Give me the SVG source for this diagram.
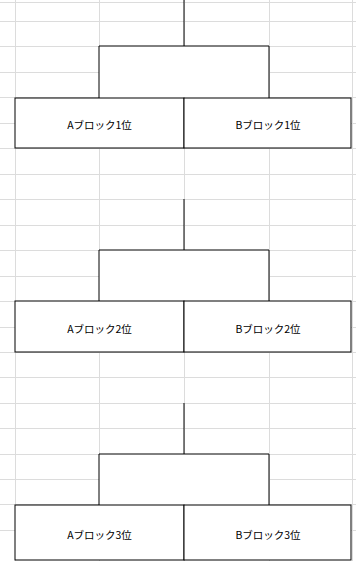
<svg xmlns="http://www.w3.org/2000/svg" width="356" height="561" viewBox="0 0 356 561">
<style>
.grid line{stroke:#dcdcdc;stroke-width:1}
.cell{fill:#ffffff;stroke:#000000;stroke-width:1}
.conn path{fill:none;stroke:#000000;stroke-width:1}
.conn rect{fill:#ffffff;stroke:none}
.lbl{font-family:"Noto Sans CJK JP","Noto Sans",sans-serif;font-size:10.5px;fill:#000000;text-anchor:middle;dominant-baseline:central}
</style>
<rect x="0" y="0" width="356" height="561" fill="#ffffff"/>
<g class="grid" id="grid">
<line x1="15.5" y1="0" x2="15.5" y2="561"/>
<line x1="99.5" y1="0" x2="99.5" y2="561"/>
<line x1="184.5" y1="0" x2="184.5" y2="561"/>
<line x1="269.5" y1="0" x2="269.5" y2="561"/>
<line x1="352.5" y1="0" x2="352.5" y2="561"/>
<line x1="0" y1="2.5" x2="356" y2="2.5"/>
<line x1="0" y1="21.5" x2="356" y2="21.5"/>
<line x1="0" y1="46.5" x2="356" y2="46.5"/>
<line x1="0" y1="72.5" x2="356" y2="72.5"/>
<line x1="0" y1="97.5" x2="356" y2="97.5"/>
<line x1="0" y1="123.5" x2="356" y2="123.5"/>
<line x1="0" y1="148.5" x2="356" y2="148.5"/>
<line x1="0" y1="174.5" x2="356" y2="174.5"/>
<line x1="0" y1="199.5" x2="356" y2="199.5"/>
<line x1="0" y1="225.5" x2="356" y2="225.5"/>
<line x1="0" y1="250.5" x2="356" y2="250.5"/>
<line x1="0" y1="276.5" x2="356" y2="276.5"/>
<line x1="0" y1="301.5" x2="356" y2="301.5"/>
<line x1="0" y1="327.5" x2="356" y2="327.5"/>
<line x1="0" y1="352.5" x2="356" y2="352.5"/>
<line x1="0" y1="377.5" x2="356" y2="377.5"/>
<line x1="0" y1="403.5" x2="356" y2="403.5"/>
<line x1="0" y1="428.5" x2="356" y2="428.5"/>
<line x1="0" y1="454.5" x2="356" y2="454.5"/>
<line x1="0" y1="479.5" x2="356" y2="479.5"/>
<line x1="0" y1="504.5" x2="356" y2="504.5"/>
<line x1="0" y1="530.5" x2="356" y2="530.5"/>
</g>
<g class="conn" id="connectors">
<rect x="99" y="46" width="170" height="52"/>
<rect x="99" y="250" width="170" height="51"/>
<rect x="99" y="454" width="170" height="51"/>
<path d="M184 0V46M99 98V46H269V98"/>
<path d="M184 199V250M99 301V250H269V301"/>
<path d="M184 403V454M99 505V454H269V505"/>
</g>
<g id="node-a1">
<rect class="cell" x="15" y="98" width="169" height="50"/>
<text class="lbl" x="99.5" y="124">Aブロック1位</text>
</g>
<g id="node-b1">
<rect class="cell" x="184" y="98" width="167" height="50"/>
<text class="lbl" x="268" y="124">Bブロック1位</text>
</g>
<g id="node-a2">
<rect class="cell" x="15" y="301" width="169" height="51"/>
<text class="lbl" x="99.5" y="328">Aブロック2位</text>
</g>
<g id="node-b2">
<rect class="cell" x="184" y="301" width="167" height="51"/>
<text class="lbl" x="268" y="328">Bブロック2位</text>
</g>
<g id="node-a3">
<rect class="cell" x="15" y="505" width="169" height="55"/>
<text class="lbl" x="99.5" y="534">Aブロック3位</text>
</g>
<g id="node-b3">
<rect class="cell" x="184" y="505" width="167" height="55"/>
<text class="lbl" x="268" y="534">Bブロック3位</text>
</g>
</svg>
